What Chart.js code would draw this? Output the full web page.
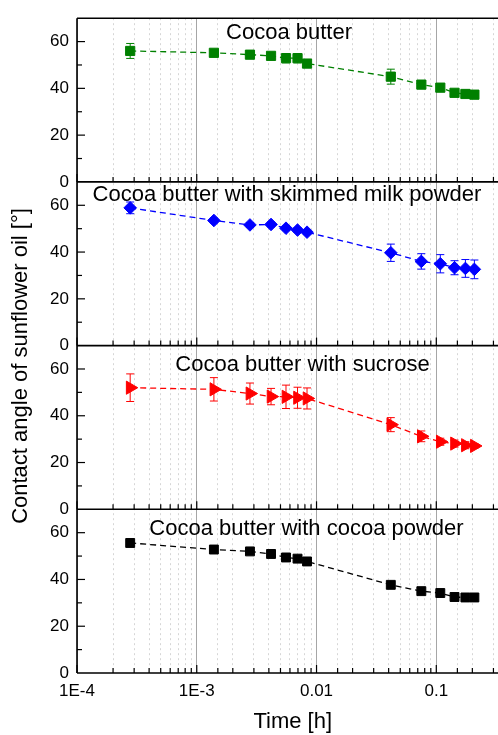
<!DOCTYPE html>
<html>
<head>
<meta charset="utf-8">
<script src="https://cdn.jsdelivr.net/npm/chart.js@4/dist/chart.umd.min.js"></script>
<style>
  html, body { margin: 0; padding: 0; background: #fff; overflow: hidden; width: 498px; height: 735px; }
  #wrap { position: absolute; left: 0; top: 0; width: 517px; height: 735px; }
  canvas { display: block; }
</style>
</head>
<body>
<div id="wrap"><canvas id="c" width="517" height="735"></canvas></div>
<script>
// ---- data ----
const times = [0.000278, 0.00139, 0.00278, 0.00417, 0.00556, 0.00694, 0.00833, 0.0417, 0.075, 0.108, 0.142, 0.175, 0.208];

const panelTitles = ['Cocoa butter', 'Cocoa butter with skimmed milk powder', 'Cocoa butter with sucrose', 'Cocoa butter with cocoa powder'];

const cocoaButter      = [56.0, 55.2, 54.4, 53.9, 52.9, 52.9, 50.6, 45.0, 41.6, 40.3, 38.1, 37.6, 37.3];
const cocoaButterErr   = [3.2, 1.0, 1.5, 1.0, 2.0, 2.0, 1.5, 3.2, 1.5, 1.2, 1.0, 1.0, 1.5];
const skimmedMilk      = [58.9, 53.5, 51.6, 51.8, 50.2, 49.4, 48.5, 39.7, 36.0, 35.0, 33.3, 33.0, 32.6];
const skimmedMilkErr   = [2.5, 1.0, 1.0, 1.0, 1.0, 1.0, 1.0, 3.7, 3.3, 3.9, 3.0, 3.8, 4.0];
const sucrose          = [52.0, 51.3, 49.5, 48.2, 48.1, 47.7, 47.4, 36.2, 31.2, 28.9, 28.1, 27.4, 27.1];
const sucroseErr       = [5.9, 5.0, 4.5, 3.5, 5.0, 4.5, 4.5, 3.0, 2.3, 1.5, 1.5, 1.5, 1.0];
const cocoaPowder      = [55.6, 52.8, 52.0, 50.9, 49.4, 48.9, 47.7, 37.7, 35.0, 34.2, 32.5, 32.3, 32.3];
const cocoaPowderErr   = [1.0, 1.0, 1.0, 1.0, 1.0, 1.0, 1.5, 1.0, 1.0, 1.0, 1.0, 1.0, 1.0];

const xTickValues = [1e-4, 1e-3, 1e-2, 1e-1];
const xTickLabels = ['1E-4', '1E-3', '0.01', '0.1'];
const yTickValues = [0, 20, 40, 60];

const xTitle = 'Time [h]';
const yTitle = 'Contact angle of sunflower oil [°]';

// ---- styles ----
const FONT = "'Liberation Sans', Arial, sans-serif";
const series = [
  { label: panelTitles[0], values: cocoaButter, err: cocoaButterErr, axis: 'p1', color: '#008000', style: 'rect', radius: 6.5, rot: 0 },
  { label: panelTitles[1], values: skimmedMilk, err: skimmedMilkErr, axis: 'p2', color: '#0000ff', style: 'rectRot', radius: 6.3, rot: 0 },
  { label: panelTitles[2], values: sucrose, err: sucroseErr, axis: 'p3', color: '#ff0000', style: 'triangle', radius: 7.6, rot: 90 },
  { label: panelTitles[3], values: cocoaPowder, err: cocoaPowderErr, axis: 'p4', color: '#000000', style: 'rect', radius: 6.3, rot: 0 }
];
const titlePos = [ {x: 289, dy: 21.2}, {x: 287, dy: 19}, {x: 302.5, dy: 25}, {x: 306.5, dy: 26} ];

function isMajor(v) {
  return xTickValues.some(t => Math.abs(Math.log10(v) - Math.log10(t)) < 1e-6);
}

const datasets = series.map(s => ({
  label: s.label,
  data: times.map((t, i) => ({ x: t, y: s.values[i] })),
  yAxisID: s.axis,
  borderColor: s.color,
  backgroundColor: s.color,
  borderWidth: 1.3,
  borderDash: [6, 4],
  pointStyle: s.style,
  pointRotation: s.rot,
  pointRadius: s.radius,
  pointHoverRadius: s.radius,
  pointBorderWidth: 1,
  pointBackgroundColor: s.color,
  pointBorderColor: s.color,
  tension: 0,
  _err: s.err
}));

function yScale() {
  return {
    type: 'linear',
    position: 'left',
    stack: 'panels',
    stackWeight: 1,
    min: 0, max: 70,
    grid: { display: false, drawTicks: false },
    border: { display: false },
    ticks: {
      stepSize: 20,
      includeBounds: false,
      padding: 8,
      color: '#000',
      font: { family: FONT, size: 17 },
      callback: v => yTickValues.includes(v) ? String(v) : ''
    },
    afterFit: sc => { sc.width = 77; }
  };
}

const panelPlugin = {
  id: 'panelPlugin',
  beforeDatasetsDraw(chart) {
    const ctx = chart.ctx;
    const xs = chart.scales.x;
    chart.data.datasets.forEach(ds => {
      const ys = chart.scales[ds.yAxisID];
      ctx.save();
      ctx.strokeStyle = ds.borderColor;
      ctx.lineWidth = 1;
      ds.data.forEach((p, j) => {
        const e = ds._err[j];
        const px = xs.getPixelForValue(p.x);
        const t = ys.getPixelForValue(p.y + e);
        const b = ys.getPixelForValue(p.y - e);
        ctx.beginPath();
        ctx.moveTo(px, t); ctx.lineTo(px, b);
        ctx.moveTo(px - 4, t); ctx.lineTo(px + 4, t);
        ctx.moveTo(px - 4, b); ctx.lineTo(px + 4, b);
        ctx.stroke();
      });
      ctx.restore();
    });
  },
  afterDraw(chart) {
    const ctx = chart.ctx;
    const area = chart.chartArea;
    const xs = chart.scales.x;
    const panels = ['p1', 'p2', 'p3', 'p4'].map(id => chart.scales[id]);
    ctx.save();
    ctx.strokeStyle = '#000';
    // inward ticks
    ctx.lineWidth = 1.2;
    panels.forEach(ys => {
      xs.ticks.forEach(tk => {
        const px = xs.getPixelForValue(tk.value);
        if (px < area.left - 0.5 || px > area.right + 0.5) return;
        const len = isMajor(tk.value) ? 8 : 5;
        ctx.beginPath();
        ctx.moveTo(px, ys.bottom);
        ctx.lineTo(px, ys.bottom - len);
        ctx.stroke();
      });
      for (let v = 10; v < 70; v += 10) {
        const py = ys.getPixelForValue(v);
        const len = (v % 20 === 0) ? 8 : 5;
        ctx.beginPath();
        ctx.moveTo(area.left, py);
        ctx.lineTo(area.left + len, py);
        ctx.stroke();
      }
    });
    // frame
    ctx.lineWidth = 1.6;
    ctx.beginPath();
    ctx.moveTo(area.left, area.top); ctx.lineTo(area.right, area.top);
    panels.forEach(ys => { ctx.moveTo(area.left, ys.bottom); ctx.lineTo(area.right, ys.bottom); });
    ctx.moveTo(area.left, area.top); ctx.lineTo(area.left, area.bottom);
    ctx.moveTo(area.right, area.top); ctx.lineTo(area.right, area.bottom);
    ctx.stroke();
    // panel titles
    ctx.fillStyle = '#000';
    ctx.font = '22px ' + FONT;
    ctx.textAlign = 'center';
    ctx.textBaseline = 'alphabetic';
    panels.forEach((ys, i) => {
      ctx.fillText(panelTitles[i], titlePos[i].x, ys.top + titlePos[i].dy);
    });
    // y title
    ctx.translate(21, 366);
    ctx.rotate(-Math.PI / 2);
    ctx.textBaseline = 'middle';
    ctx.fillText(yTitle, 0, 0);
    ctx.restore();
  }
};

new Chart(document.getElementById('c'), {
  type: 'line',
  data: { datasets },
  options: {
    responsive: false,
    animation: false,
    events: [],
    layout: { padding: { top: 13, right: 1, left: 0, bottom: 0 } },
    plugins: { legend: { display: false }, tooltip: { enabled: false }, title: { display: false } },
    scales: {
      x: {
        type: 'logarithmic',
        position: 'bottom',
        min: 1e-4, max: 0.4,
        grid: {
          drawTicks: false,
          lineWidth: 1,
          color: c => (c.tick && isMajor(c.tick.value)) ? '#a6a6a6' : '#d6d6d6'
        },
        border: {
          display: false,
          dash: c => (c.tick && !isMajor(c.tick.value)) ? [2, 3] : []
        },
        ticks: {
          autoSkip: false,
          maxRotation: 0,
          padding: 8,
          color: '#000',
          font: { family: FONT, size: 17 },
          callback: v => { const i = xTickValues.findIndex(t => Math.abs(Math.log10(v) - Math.log10(t)) < 1e-6); return i >= 0 ? xTickLabels[i] : ''; }
        },
        title: { display: true, text: xTitle, color: '#000', font: { family: FONT, size: 22 }, padding: { top: 0, bottom: 0 } },
        afterFit: sc => { sc.height = 62; }
      },
      p4: yScale(),
      p3: yScale(),
      p2: yScale(),
      p1: yScale()
    }
  },
  plugins: [panelPlugin]
});
</script>
</body>
</html>
